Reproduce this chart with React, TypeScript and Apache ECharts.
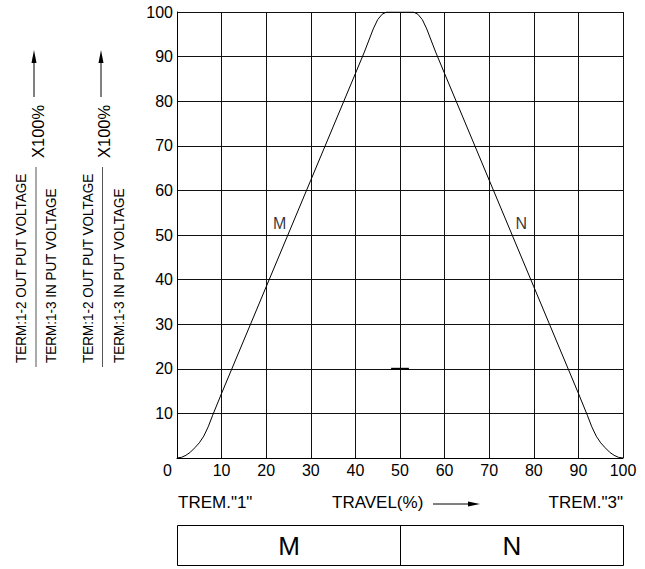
import React, { useEffect, useRef } from "react";
import * as echarts from "echarts";

// Travel (%) and output (%) for the taper curve
const travelX = [0, 1, 2, 3, 4, 5, 6, 7, 8, 10, 20, 30, 40, 42, 44, 45, 46, 47, 53, 54, 55, 56, 58, 60, 70, 80, 90, 92, 93, 94, 95, 96, 97, 98, 99, 100];
const outputY = [0, 0.15, 0.6, 1.3, 2.3, 3.4, 4.9, 7, 9.6, 14.5, 38.4, 62.3, 86.2, 91, 96.2, 98.3, 99.5, 100, 100, 99.5, 98.3, 96.2, 91, 86.2, 62.3, 38.4, 14.5, 9.6, 7, 4.9, 3.4, 2.3, 1.3, 0.6, 0.15, 0];

// Small tolerance mark at 20%
const markX = [48, 52];
const markY = [20, 20];

// Curve labels
const curveLabels = ["M", "N"];
const curveLabelX = [23, 77.2];
const curveLabelY = [52.5, 52.5];

const FONT = "Liberation Sans";

export default function App() {
  const ref = useRef<HTMLDivElement>(null);
  useEffect(() => {
    if (!ref.current) return;
    const chart = echarts.init(ref.current, undefined, { renderer: "svg" });
    const curve = travelX.map((x, i) => [x, outputY[i]]);
    const mark = markX.map((x, i) => [x, markY[i]]);
    const labels = curveLabels.map((n, i) => ({ name: n, value: [curveLabelX[i], curveLabelY[i]] }));

    const txt = (text: string, x: number, y: number, size: number, align: string, rot = 0, sx = 1) => ({
      type: "text",
      x,
      y,
      rotation: rot,
      scaleX: sx,
      style: { text, fill: "#000", fontSize: size, fontFamily: FONT, align, verticalAlign: "middle" },
    });
    const upArrow = (x: number) => [
      { type: "line", shape: { x1: x, y1: 97, x2: x, y2: 60 }, style: { stroke: "#000", lineWidth: 1 } },
      { type: "polygon", shape: { points: [[x - 2.5, 63], [x, 50], [x + 2.5, 63]] }, style: { fill: "#000" } },
    ];
    const R = Math.PI / 2;

    chart.setOption({
      animation: false,
      textStyle: { fontFamily: FONT },
      grid: { left: 177, top: 12, width: 446, height: 446, containLabel: false },
      xAxis: {
        type: "value",
        min: 0,
        max: 100,
        interval: 10,
        axisLine: { show: true, lineStyle: { color: "#000", width: 1 } },
        axisTick: { show: false },
        splitLine: { show: true, lineStyle: { color: "#111", width: 1 } },
        axisLabel: {
          color: "#000",
          fontSize: 16,
          margin: 4,
          fontFamily: FONT,
          formatter: (v: number) => (v === 0 ? "{z|0}" : String(v)),
          rich: { z: { padding: [0, 19, 0, 0], fontSize: 16, color: "#000", fontFamily: FONT } },
        },
      },
      yAxis: {
        type: "value",
        min: 0,
        max: 100,
        interval: 10,
        axisLine: { show: true, lineStyle: { color: "#000", width: 1 } },
        axisTick: { show: false },
        splitLine: { show: true, lineStyle: { color: "#111", width: 1 } },
        axisLabel: {
          color: "#000",
          fontSize: 16,
          margin: 4,
          fontFamily: FONT,
          formatter: (v: number) => (v === 0 ? "" : String(v)),
        },
      },
      series: [
        {
          type: "line",
          data: curve,
          symbol: "none",
          lineStyle: { color: "#000", width: 1 },
        },
        {
          type: "line",
          data: mark,
          symbol: "none",
          lineStyle: { color: "#000", width: 2 },
        },
        {
          type: "scatter",
          data: labels,
          symbolSize: 1,
          itemStyle: { color: "transparent" },
          label: {
            show: true,
            position: "inside",
            formatter: "{b}",
            color: "#000",
            fontSize: 16,
            fontFamily: FONT,
          },
        },
      ],
      graphic: [
        txt("TERM:1-2 OUT PUT VOLTAGE", 21, 363, 15, "left", R, 0.9),
        txt("TERM:1-3 IN PUT VOLTAGE", 51, 363, 15, "left", R, 0.9),
        txt("X100%", 37.5, 158, 16.5, "left", R),
        { type: "line", shape: { x1: 36, y1: 167, x2: 36, y2: 367 }, style: { stroke: "#555", lineWidth: 1 } },
        ...upArrow(34),
        txt("TERM:1-2 OUT PUT VOLTAGE", 88, 363, 15, "left", R, 0.9),
        txt("TERM:1-3 IN PUT VOLTAGE", 119, 363, 15, "left", R, 0.9),
        txt("X100%", 104, 158, 16.5, "left", R),
        { type: "line", shape: { x1: 102.5, y1: 167, x2: 102.5, y2: 367 }, style: { stroke: "#555", lineWidth: 1 } },
        ...upArrow(101),
        txt('TREM."1"', 178, 502, 17, "left"),
        txt("TRAVEL(%)", 332, 502, 17, "left"),
        { type: "line", shape: { x1: 433, y1: 504, x2: 471, y2: 504 }, style: { stroke: "#000", lineWidth: 1 } },
        { type: "polygon", shape: { points: [[468, 501.5], [480, 504], [468, 506.5]] }, style: { fill: "#000" } },
        txt('TREM."3"', 623, 502, 17, "right"),
        {
          type: "rect",
          shape: { x: 177.5, y: 525.5, width: 446, height: 40 },
          style: { fill: "none", stroke: "#000", lineWidth: 1 },
        },
        { type: "line", shape: { x1: 400.5, y1: 525.5, x2: 400.5, y2: 565.5 }, style: { stroke: "#000", lineWidth: 1 } },
        txt("M", 289, 546, 26, "center"),
        txt("N", 512, 546, 26, "center"),
      ],
    });
    return () => chart.dispose();
  }, []);
  return (
    <div
      ref={ref}
      style={{ position: "fixed", left: 0, top: 0, width: 645, height: 569, background: "#fff" }}
    />
  );
}
